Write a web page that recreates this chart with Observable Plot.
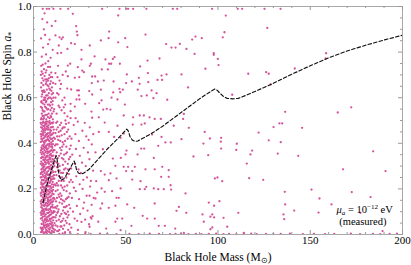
<!DOCTYPE html>
<html><head><meta charset="utf-8">
<script src="https://cdn.jsdelivr.net/npm/d3@7"></script>
<script src="https://cdn.jsdelivr.net/npm/@observablehq/plot@0.6"></script>
<style>
html,body{margin:0;padding:0;background:#fff}
svg{display:block}
#chart svg, #chart svg text, #chart svg tspan{font-family:"Liberation Serif","Times New Roman",serif !important}
</style>
</head><body><div id="chart"></div>
<script>
// ---- tick values ----
const xMajorTicks = [0, 50, 100, 150, 200];
const xMinorTicks = [10, 20, 30, 40, 60, 70, 80, 90, 110, 120, 130, 140, 160, 170, 180, 190];
const yMajorTicks = [0, 0.2, 0.4, 0.6, 0.8, 1.0];
const yMinorTicks = [0.05, 0.1, 0.15, 0.25, 0.3, 0.35, 0.45, 0.5, 0.55, 0.65, 0.7, 0.75, 0.85, 0.9, 0.95];

// ---- dashed bound curve ----
const curveMass = [5.2, 6.5, 8, 10, 11.5, 12.3, 12.8, 13.3, 14, 15, 16.5, 18.5, 20.5, 22, 22.6, 23.3, 24.3, 25.5, 27, 30, 35, 40, 45, 48, 50.5, 51.3, 52.3, 53.5, 55, 56.5, 60, 65, 70, 75, 80, 85, 90, 95, 98.3, 99.5, 101, 103, 105, 108, 111, 115, 120, 125, 130, 135, 140, 150, 160, 170, 180, 190, 200];
const curveSpin = [0.14, 0.19, 0.24, 0.29, 0.33, 0.345, 0.33, 0.29, 0.255, 0.238, 0.245, 0.27, 0.3, 0.322, 0.31, 0.285, 0.27, 0.266, 0.268, 0.285, 0.33, 0.375, 0.415, 0.44, 0.462, 0.455, 0.43, 0.415, 0.408, 0.41, 0.425, 0.448, 0.475, 0.505, 0.535, 0.565, 0.595, 0.622, 0.638, 0.633, 0.62, 0.605, 0.597, 0.595, 0.597, 0.61, 0.627, 0.645, 0.663, 0.683, 0.703, 0.74, 0.775, 0.805, 0.83, 0.853, 0.874];

// ---- black hole samples [mass, spin] ----
const clusterCore = [
[4.1,0.01],[4.8,0.03],[5.5,0.005],[6.2,0.04],[6.9,0.02],[7.7,0.045],[8.4,0.012],[9.1,0.03],[9.9,0.016],[10.7,0.04],[4.4,0.046],[5.2,0.024],[6.6,0.011],[7.3,0.034],[8.8,0.048],[9.6,0.006],[10.3,0.028],[11.1,0.01],[5.9,0.033],[8.1,0.026],
[4.0,0.07],[4.7,0.09],[5.4,0.055],[6.1,0.08],[6.8,0.064],[7.5,0.095],[8.2,0.06],[8.9,0.085],[9.7,0.07],[10.5,0.094],[4.4,0.1],[5.8,0.099],[7.1,0.075],[8.6,0.098],[10.1,0.052],[11.0,0.076],[5.1,0.078],[7.9,0.078],[9.3,0.058],[6.4,0.052],
[4.2,0.12],[4.9,0.143],[5.6,0.108],[6.3,0.13],[7.0,0.115],[7.7,0.147],[8.4,0.11],[9.2,0.137],[9.9,0.122],[10.7,0.146],[4.6,0.105],[5.3,0.128],[6.0,0.149],[6.7,0.138],[8.0,0.128],[8.8,0.149],[9.5,0.104],[10.3,0.13],[11.2,0.118],[7.4,0.125],
[4.1,0.17],[4.8,0.192],[5.5,0.158],[6.2,0.18],[6.9,0.167],[7.6,0.195],[8.3,0.162],[9.0,0.185],[9.8,0.172],[10.6,0.196],[4.5,0.152],[5.2,0.175],[5.9,0.198],[6.6,0.188],[7.3,0.176],[8.7,0.198],[9.4,0.153],[10.2,0.18],[11.0,0.16],[8.0,0.175],
[4.3,0.22],[5.0,0.24],[5.7,0.205],[6.4,0.23],[7.1,0.215],[7.8,0.245],[8.5,0.21],[9.3,0.235],[10.0,0.22],[10.8,0.246],[4.0,0.205],[4.6,0.238],[5.3,0.222],[6.1,0.248],[6.8,0.236],[7.5,0.228],[8.9,0.248],[9.6,0.204],[10.4,0.23],[8.2,0.232],
[4.1,0.27],[4.8,0.29],[5.5,0.255],[6.2,0.28],[6.9,0.265],[7.6,0.295],[8.3,0.26],[9.1,0.285],[9.8,0.27],[10.6,0.296],[4.5,0.252],[5.2,0.276],[5.9,0.298],[6.6,0.288],[7.3,0.274],[8.7,0.298],[9.4,0.253],[10.2,0.28],[11.1,0.26],[8.0,0.278],
[4.2,0.32],[4.9,0.34],[5.6,0.305],[6.3,0.33],[7.0,0.315],[7.7,0.345],[8.4,0.31],[9.2,0.335],[9.9,0.32],[10.7,0.346],[4.6,0.303],[5.3,0.327],[6.0,0.348],[6.7,0.338],[7.4,0.326],[8.8,0.349],[9.5,0.304],[10.3,0.33],[11.0,0.31],[8.1,0.328],
[4.1,0.37],[4.8,0.39],[5.5,0.355],[6.2,0.38],[6.9,0.365],[7.6,0.395],[8.3,0.36],[9.0,0.385],[9.8,0.37],[10.5,0.396],[4.5,0.352],[5.2,0.377],[5.9,0.398],[6.6,0.388],[7.3,0.374],[8.7,0.398],[9.4,0.353],[10.2,0.38],[8.0,0.378],
[4.3,0.42],[5.0,0.44],[5.7,0.405],[6.4,0.43],[7.1,0.415],[7.8,0.445],[8.5,0.41],[9.3,0.435],[10.0,0.42],[10.8,0.446],[4.0,0.406],[4.6,0.438],[5.3,0.422],[6.1,0.448],[6.8,0.436],[7.5,0.428],[9.0,0.448],[9.6,0.404],[8.2,0.432],
[4.1,0.47],[4.8,0.49],[5.5,0.455],[6.2,0.48],[6.9,0.465],[7.6,0.495],[8.3,0.46],[9.1,0.485],[9.9,0.47],[10.7,0.492],[4.5,0.452],[5.2,0.476],[6.6,0.488],[7.3,0.474],[8.7,0.497],[9.5,0.455],[5.9,0.462]
];
const clusterCoreFill = [
[4.3,0.025],[5.0,0.012],[5.7,0.038],[6.5,0.028],[7.2,0.006],[8.0,0.04],[8.7,0.022],[9.4,0.045],[10.1,0.035],[10.9,0.024],
[4.2,0.085],[4.9,0.062],[5.6,0.09],[6.3,0.068],[7.3,0.058],[8.0,0.094],[8.8,0.07],[9.5,0.088],[10.3,0.075],[10.9,0.098],
[4.1,0.135],[4.8,0.115],[5.5,0.14],[6.4,0.112],[7.1,0.138],[7.9,0.108],[8.6,0.132],[9.4,0.12],[10.1,0.141],[10.9,0.102],
[4.3,0.185],[5.0,0.163],[5.7,0.188],[6.4,0.158],[7.1,0.186],[7.9,0.152],[8.5,0.18],[9.3,0.168],[10.0,0.19],[10.9,0.177],
[4.2,0.228],[4.9,0.212],[5.6,0.238],[6.3,0.206],[7.0,0.243],[7.7,0.21],[8.6,0.226],[9.2,0.212],[10.1,0.242],[11.0,0.218],
[4.3,0.285],[5.0,0.262],[5.7,0.284],[6.4,0.258],[7.1,0.292],[7.8,0.264],[8.5,0.288],[9.3,0.268],[10.0,0.29],[10.8,0.274],
[4.1,0.335],[4.8,0.312],[5.5,0.338],[6.2,0.318],[7.2,0.34],[7.9,0.315],[8.6,0.338],[9.4,0.32],[10.1,0.344],[10.9,0.328],
[4.3,0.382],[5.0,0.362],[5.7,0.385],[6.4,0.36],[7.1,0.39],[7.8,0.364],[8.5,0.388],[9.2,0.368],[10.0,0.386],[10.8,0.37],
[4.2,0.43],[4.9,0.41],[5.5,0.435],[6.3,0.412],[7.0,0.44],[7.7,0.418],[8.7,0.442],[9.4,0.418],[10.2,0.44],[11.0,0.425],
[4.3,0.482],[5.0,0.462],[5.7,0.49],[6.4,0.458],[7.1,0.485],[7.9,0.468],[8.5,0.49],[9.3,0.47],[10.3,0.488],[11.0,0.46]
];
const clusterCoreFill2 = [
[3.9,0.03],[4.6,0.018],[5.3,0.045],[6.0,0.008],[6.8,0.042],[7.5,0.015],[8.3,0.038],[9.0,0.008],[9.8,0.044],[10.5,0.012],
[3.9,0.095],[4.6,0.072],[5.3,0.1],[6.0,0.062],[6.7,0.088],[7.4,0.066],[8.4,0.082],[9.1,0.066],[9.9,0.096],[10.7,0.062],
[3.9,0.145],[4.5,0.128],[5.2,0.11],[5.9,0.125],[6.8,0.108],[7.5,0.135],[8.2,0.142],[9.0,0.112],[9.7,0.145],[10.5,0.118],
[3.9,0.18],[4.6,0.196],[5.4,0.185],[6.0,0.168],[6.8,0.192],[7.5,0.16],[8.2,0.19],[8.9,0.165],[9.6,0.192],[10.4,0.158],
[3.9,0.25],[4.5,0.222],[5.2,0.208],[5.9,0.225],[6.6,0.212],[7.4,0.246],[8.1,0.214],[8.8,0.226],[9.5,0.242],[10.6,0.208],
[3.9,0.265],[4.7,0.275],[5.3,0.295],[6.0,0.27],[6.7,0.252],[7.5,0.262],[8.2,0.296],[8.9,0.26],[9.7,0.292],[10.4,0.255],
[3.9,0.31],[4.5,0.338],[5.2,0.31],[5.9,0.325],[6.6,0.308],[7.3,0.345],[8.2,0.318],[8.9,0.33],[9.7,0.345],[10.5,0.312],
[3.9,0.36],[4.6,0.375],[5.3,0.392],[6.0,0.37],[6.8,0.38],[7.5,0.356],[8.2,0.395],[8.9,0.365],[9.6,0.395],[10.4,0.362],
[3.9,0.44],[4.5,0.418],[5.2,0.445],[5.9,0.425],[6.6,0.408],[7.3,0.44],[8.0,0.415],[8.8,0.425],[9.8,0.438],[10.5,0.41],
[3.9,0.49],[4.6,0.468],[5.3,0.495],[6.0,0.472],[6.8,0.495],[7.5,0.46],[8.1,0.478],[8.9,0.46],[9.7,0.49],[10.5,0.472]
];
const clusterUpper = [
[4.3,0.51],[5.6,0.52],[6.9,0.505],[8.2,0.53],[9.6,0.515],[10.9,0.54],[4.9,0.545],[6.3,0.56],[7.5,0.548],[9.0,0.565],[10.3,0.57],[4.2,0.58],[5.5,0.59],[7.0,0.585],[8.4,0.6],[9.8,0.595],[4.7,0.615],[6.1,0.625],[7.6,0.61],[8.9,0.635],[10.6,0.62],[4.1,0.645],[5.3,0.655],[6.7,0.66],[8.1,0.65],[9.4,0.672],[4.8,0.685],[6.0,0.695],[7.3,0.68],[8.6,0.7],[10.1,0.69],[4.4,0.715],[5.7,0.725],[7.0,0.72],[9.0,0.735],[5.0,0.745],[6.5,0.75],[8.0,0.76],[4.6,0.63],[5.9,0.57],[7.8,0.57],[9.2,0.545],[10.0,0.645],[6.4,0.6],[7.9,0.675],
[4.5,0.53],[5.2,0.505],[6.0,0.54],[7.3,0.525],[8.7,0.51],[10.0,0.53],[4.0,0.56],[5.0,0.575],[6.7,0.58],[8.0,0.55],[9.5,0.58],[10.8,0.6],[4.4,0.605],[5.8,0.6],[7.2,0.635],[8.3,0.62],[9.9,0.615],[4.3,0.665],[5.6,0.632],[6.4,0.68],[7.6,0.655],[9.0,0.66],[5.0,0.705],[6.6,0.71],[7.9,0.735],[9.6,0.71],[4.2,0.74],
[4.1,0.505],[4.9,0.52],[5.7,0.51],[6.5,0.525],[7.8,0.515],[9.3,0.52],[10.5,0.505],[4.6,0.555],[5.4,0.54],[6.9,0.555],[8.5,0.57],[9.9,0.555],[11.2,0.55],[4.4,0.585],[6.2,0.59],[7.7,0.595],[9.1,0.6],[10.4,0.585],[5.1,0.625],[6.9,0.61],[8.6,0.64],[9.7,0.63],[4.0,0.7],[5.4,0.675],[7.0,0.67],[8.3,0.685],[9.3,0.69],[10.6,0.665],
[12.5,0.53],[13.6,0.565],[15.2,0.545],[16.8,0.6],[12.8,0.62],[14.9,0.66],[17.2,0.57],[13.3,0.74],[15.8,0.7],[18.3,0.64]
];
const clusterTop = [
[4.5,0.78],[6.8,0.79],[9.3,0.775],[5.2,0.82],[7.9,0.835],[10.4,0.81],[4.1,0.86],[6.3,0.875],[8.7,0.855],[5.6,0.9],[9.9,0.915],[4.8,0.945],[7.4,0.93],[6.0,0.97],[8.5,0.99],[5.0,0.99],[10.8,0.99],[7.2,0.99]
];
const midCluster = [
[11.6,0.02],[12.5,0.06],[13.4,0.015],[14.3,0.08],[15.2,0.035],[16.2,0.07],[17.1,0.01],[18.0,0.05],[19.0,0.085],[12.9,0.095],[15.8,0.005],[17.6,0.09],[14.8,0.055],[18.8,0.02],[11.9,0.075],
[11.8,0.12],[12.7,0.16],[13.6,0.11],[14.5,0.18],[15.5,0.135],[16.4,0.195],[17.3,0.12],[18.3,0.16],[19.3,0.13],[13.1,0.195],[16.0,0.105],[17.9,0.19],[14.9,0.155],[12.2,0.145],[19.7,0.18],
[11.5,0.22],[12.4,0.26],[13.3,0.215],[14.2,0.28],[15.1,0.235],[16.0,0.27],[16.9,0.21],[17.8,0.25],[18.7,0.285],[12.8,0.295],[15.7,0.205],[17.4,0.29],[14.6,0.25],[19.5,0.23],[11.9,0.275],
[11.7,0.32],[12.6,0.36],[13.5,0.31],[14.4,0.38],[15.4,0.335],[16.3,0.395],[17.2,0.32],[18.2,0.36],[19.2,0.33],[13.0,0.395],[15.9,0.305],[17.8,0.385],[14.8,0.355],[12.1,0.345],
[11.6,0.42],[12.5,0.46],[13.4,0.415],[14.3,0.48],[15.3,0.435],[16.2,0.47],[17.1,0.41],[18.1,0.45],[19.1,0.49],[12.9,0.495],[15.8,0.405],[17.6,0.485],[14.7,0.455],[19.6,0.43],
[12.0,0.04],[13.0,0.035],[14.0,0.02],[15.6,0.06],[16.7,0.04],[18.4,0.075],[19.5,0.045],[12.3,0.085],[13.8,0.065],[16.9,0.095],
[11.4,0.155],[12.9,0.125],[14.1,0.14],[15.2,0.17],[16.7,0.145],[18.0,0.125],[19.0,0.165],[13.6,0.175],[12.0,0.19],
[11.3,0.245],[12.6,0.225],[13.9,0.255],[15.0,0.27],[16.4,0.235],[18.3,0.215],[19.2,0.265],[13.4,0.28],
[11.4,0.37],[12.7,0.315],[13.9,0.345],[15.1,0.37],[16.6,0.35],[18.6,0.31],[19.6,0.375],[12.2,0.395],
[11.9,0.445],[13.2,0.47],[14.0,0.43],[15.6,0.465],[16.8,0.44],[18.5,0.42],[12.3,0.49],[17.3,0.5],
[11.4,0.05],[12.8,0.015],[14.6,0.035],[16.0,0.025],[17.4,0.06],[19.8,0.01],[13.3,0.1],[15.1,0.09],[18.6,0.1],
[11.5,0.1],[12.4,0.115],[14.0,0.165],[15.9,0.15],[17.6,0.155],[19.9,0.115],[16.5,0.12],
[12.1,0.215],[13.7,0.235],[15.5,0.25],[16.6,0.285],[18.1,0.27],[20.3,0.24],[14.9,0.215],
[11.3,0.3],[13.2,0.335],[14.2,0.3],[16.2,0.33],[17.6,0.355],[19.9,0.34],[15.6,0.385],
[11.6,0.39],[12.8,0.43],[14.5,0.41],[15.0,0.49],[16.9,0.47],[18.8,0.46],[20.2,0.39],[13.7,0.45]
];
const midSpread = [
[20.5,0.03],[22.3,0.07],[24.1,0.02],[26.0,0.055],[28.2,0.01],[30.1,0.045],[32.0,0.08],[21.4,0.1],[23.5,0.125],[25.3,0.09],[27.4,0.14],[29.3,0.105],[31.5,0.13],[20.8,0.16],[22.9,0.19],[24.7,0.155],[26.6,0.2],[28.8,0.17],[30.7,0.21],[32.6,0.16],[21.2,0.23],[23.2,0.255],[25.0,0.22],[27.0,0.24],[29.0,0.25],[31.1,0.235],[20.4,0.29],[22.5,0.31],[24.4,0.285],[26.3,0.315],[28.3,0.3],[30.3,0.33],[32.3,0.28],[21.0,0.35],[23.0,0.375],[25.1,0.345],[27.2,0.38],[29.5,0.36],[31.6,0.395],[20.6,0.42],[22.7,0.44],[24.6,0.41],[26.5,0.455],[28.6,0.43],[30.5,0.47],[32.4,0.44],[21.8,0.48],[24.0,0.495],[27.8,0.49],[29.9,0.415],[23.7,0.06],[26.9,0.115],[31.0,0.075],[21.9,0.205],[28.0,0.065],[25.7,0.27]
];
const sparseUpperLeft = [
[14.6,0.99],[18.8,0.99],[37.2,0.99],[46.6,0.99],[50.2,0.99],[51.3,0.99],[54,0.99],[61.2,0.99],[21.3,0.968],[45.9,0.961],[11.9,0.936],[23.1,0.914],[23.5,0.89],[23.8,0.874],[41,0.89],[11.9,0.873],[14.1,0.865],[15.9,0.865],[15.2,0.857],[60.7,0.877],[49.7,0.861],[40.7,0.861],[36.5,0.851],[45.9,0.843],[20.4,0.839],[22.4,0.835],[13.7,0.829],[30.5,0.829],[50.9,0.822],[71.9,0.835],[18.4,0.814],[26,0.81],[13,0.795],[15,0.797],[33.1,0.781],[26,0.768],[39,0.768],[41,0.749],[42.1,0.749],[43,0.77],[43.9,0.778],[46.8,0.749],[61.8,0.763],[68.3,0.772],[19.9,0.749],[18.6,0.741],[30.5,0.74],[31.1,0.749],[24,0.734],[17.5,0.715],[26.4,0.719],[27.3,0.712],[37,0.724],[40.3,0.724],[57.8,0.737],[50.6,0.702],[62,0.708],[69.4,0.697],[67.2,0.678],[69.7,0.678],[72.1,0.702],
[11.9,0.708],[13,0.69],[14.1,0.675],[11.9,0.661],[14.5,0.639],[18.6,0.694],[22.4,0.687],[24.8,0.69],[31.8,0.693],[33.4,0.693],[31.6,0.664],[34.9,0.671],[38.1,0.675],[43.4,0.671],[50.2,0.664],[53.3,0.671],[57.1,0.687],[57.5,0.661],[62.2,0.668],[20.4,0.636],[23.7,0.632],[24.6,0.632],[30.2,0.629],[36.5,0.635],[46.6,0.639],[48.4,0.635],[47,0.624],[43.2,0.623],[56.5,0.635],[58.5,0.607],[61.4,0.61],[64,0.632],[66.7,0.62],[65,0.598],[72.5,0.591],[31.8,0.614],[24.6,0.61],[23.3,0.592],[24.9,0.592],[13.6,0.614],[11.9,0.6],[15.6,0.588],[36.9,0.588],[42.3,0.6],[45.5,0.592],[35.6,0.576],[28,0.573],[20.1,0.573],[22.4,0.561],[49.5,0.57],[14.1,0.558],[16.4,0.558],[39.7,0.551],[37.8,0.548],[41.7,0.548],[20.1,0.541],[16.8,0.532],[31.4,0.539],[35.4,0.514],[31.8,0.512],[48.9,0.522],[54,0.514],[57.6,0.522],[59.8,0.522],[62.9,0.514],[65.7,0.507],[69,0.507],[18.4,0.518],[20.1,0.51],[22.8,0.51]
];
const sparseLowerLeft = [
[38.6,0.491],[35.4,0.45],[40.8,0.45],[45.5,0.477],[48.9,0.443],[43.7,0.428],[47.2,0.424],[53.8,0.482],[58.5,0.482],[60.3,0.487],[64.3,0.439],[69.4,0.428],[71.5,0.404],[74.4,0.404],[67.6,0.389],[58.4,0.377],[60,0.377],[50.4,0.368],[49.9,0.351],[56.4,0.351],[37.6,0.374],[33.6,0.36],[43,0.333],[47.3,0.336],[65.2,0.336],[44.4,0.301],[48.9,0.297],[51.3,0.297],[54.9,0.297],[50.2,0.278],[53.5,0.278],[60.7,0.286],[65.7,0.286],[69.8,0.297],[69.2,0.253],[73.3,0.253],[73.3,0.282],[36.5,0.278],[38.6,0.263],[41.7,0.268],[45,0.246],[34,0.234],[40.8,0.238],[53.5,0.241],[58,0.234],[61.1,0.209],[65.2,0.202],[57.6,0.199],[60.3,0.199],[67.6,0.199],[70.6,0.199],[74.3,0.216],[36.9,0.202],[34.5,0.184],[38.6,0.187],[42.6,0.19],[47.2,0.202],[46.2,0.161],[45,0.161],[33.6,0.158],[30.4,0.17],[37.2,0.136],[40.8,0.117],[36.3,0.114],[44.4,0.126],[50.8,0.132],[54.6,0.117],[65.7,0.136],[59.2,0.082],[61.6,0.07],[65.7,0.07],[71.2,0.038],[67.9,0.038],[45.4,0.07],[48.1,0.07],[44.4,0.056],[35.1,0.056],[31.4,0.07],[30.4,0.034],[39.4,0.026],[53.1,0.038],[47.2,0.019]
];
const sparseUpperMid = [
[75.5,0.99],[77.9,0.99],[96.8,0.99],[110.7,0.99],[113.1,0.99],[125.2,0.99],[133.9,0.99],[104.2,0.96],[126.7,0.906],[103.5,0.887],[87.8,0.868],[86,0.855],[91.2,0.861],[102.6,0.865],[79.3,0.836],[74.8,0.82],[77,0.82],[82.9,0.814],[87.3,0.792],[97.7,0.795],[97.7,0.788],[99.9,0.77],[100.3,0.743],[93.2,0.727],[80.2,0.702],[116.4,0.705],[126.1,0.712],[127.5,0.705],[83.8,0.645],[107.7,0.613],[128.5,0.658],[136.4,0.538],[81.5,0.529],[81.1,0.507]
];
const sparseLowerMid = [
[76,0.477],[84.2,0.468],[92.8,0.45],[80.2,0.418],[95.6,0.421],[101.7,0.424],[101.5,0.407],[92.1,0.399],[101.7,0.377],[110.2,0.398],[109.9,0.371],[118.5,0.368],[117.6,0.351],[115.6,0.311],[86.7,0.342],[94.7,0.348],[122,0.447],[127.5,0.413],[130.1,0.471],[133.3,0.487],[134.8,0.487],[134,0.405],[132.4,0.355],[98.3,0.246],[99.7,0.25],[102.3,0.234],[116.9,0.247],[124.5,0.24],[74.6,0.197],[82.4,0.18],[136.2,0.187],[136.4,0.132],[95,0.14],[100.8,0.146],[97.9,0.126],[78.8,0.121],[77.5,0.104],[82.8,0.095],[91.6,0.088],[96.9,0.088],[95.9,0.078],[97.9,0.075],[103,0.073],[111,0.095],[135.5,0.088],[135.9,0.067],[92.3,0.056],[105,0.034],[96.9,0.031],[95.9,0.023],[76.8,0.026],[81.5,0.007],[114,0.007]
];
const sparseRight = [
[141.6,0.728],[158.6,0.795],[158.3,0.772],[164.9,0.535],[172.2,0.558],[145.6,0.468],[143.5,0.345],[184.1,0.365],[167.8,0.286],[190.8,0.278],[150.7,0.197],[155,0.158],[172.5,0.186],[182.7,0.164],[141.3,0.105],[154.5,0.096],[161.5,0.132],[177.2,0.095],[189.2,0.015]
];
const bottomRowMass = [14, 17, 20, 24, 28, 31, 36, 40, 45, 52, 57, 63, 68, 74, 77, 80, 84, 88, 91, 95, 99, 103, 106, 110, 114, 118, 121, 126, 130, 134, 139, 146, 152, 158, 163, 172, 177, 184, 188, 193, 197];
const bottomRowSpin = [0.003, 0.002, 0.004, 0.002, 0.003, 0.002, 0.004, 0.003, 0.002, 0.003, 0.002, 0.004, 0.003, 0.002, 0.003, 0.004, 0.002, 0.003, 0.002, 0.003, 0.004, 0.002, 0.003, 0.002, 0.003, 0.004, 0.002, 0.003, 0.002, 0.003, 0.004, 0.002, 0.003, 0.002, 0.003, 0.004, 0.002, 0.003, 0.002, 0.003, 0.004];

const samples = [...clusterCore, ...clusterCoreFill, ...clusterCoreFill2, ...clusterUpper, ...clusterTop, ...midCluster, ...midSpread,
  ...sparseUpperLeft, ...sparseLowerLeft, ...sparseUpperMid, ...sparseLowerMid, ...sparseRight,
  ...bottomRowMass.map((m, i) => [m, bottomRowSpin[i]])].map(([mass, spin]) => ({mass, spin}));
const curve = curveMass.map((mass, i) => ({mass, spin: curveSpin[i]}));

const FONT = "Liberation Serif";
const W = 411, H = 265, ML = 33, MR = 9, MT = 6, MB = 31;
const FW = W - ML - MR, FH = H - MT - MB;
const tickColor = "#9a9a9a";

const chart = Plot.plot({
  width: W, height: H,
  marginLeft: ML, marginRight: MR, marginTop: MT, marginBottom: MB,
  style: {fontFamily: FONT, fontSize: "11px", background: "#fff", color: "#000", overflow: "visible"},
  x: {domain: [0, 200]},
  y: {domain: [0, 1]},
  marks: [
    Plot.dot(samples, {x: "mass", y: "spin", r: 1.15, fill: "#d4549a", stroke: null}),
    Plot.line(curve, {x: "mass", y: "spin", stroke: "#111", strokeWidth: 1.15, strokeDasharray: "3.5,2.2"}),
    Plot.frame({stroke: "#a8a8a8", strokeWidth: 1}),
    // inward ticks, all four sides
    Plot.tickX(xMajorTicks, {x: d => d, stroke: tickColor, insetTop: FH - 4}),
    Plot.tickX(xMajorTicks, {x: d => d, stroke: tickColor, insetBottom: FH - 4}),
    Plot.tickX(xMinorTicks, {x: d => d, stroke: tickColor, insetTop: FH - 2}),
    Plot.tickX(xMinorTicks, {x: d => d, stroke: tickColor, insetBottom: FH - 2}),
    Plot.tickY(yMajorTicks, {y: d => d, stroke: tickColor, insetRight: FW - 4}),
    Plot.tickY(yMajorTicks, {y: d => d, stroke: tickColor, insetLeft: FW - 4}),
    Plot.tickY(yMinorTicks, {y: d => d, stroke: tickColor, insetRight: FW - 2}),
    Plot.tickY(yMinorTicks, {y: d => d, stroke: tickColor, insetLeft: FW - 2}),
    // tick labels
    Plot.axisX({ticks: xMajorTicks, tickSize: 0, tickPadding: 2, label: null, fontSize: 11, fontFamily: FONT}),
    Plot.axisY({ticks: yMajorTicks, tickSize: 0, tickPadding: 2, label: null, tickFormat: d3.format(".1f"), fontSize: 11, fontFamily: FONT}),
    // titles
    Plot.text(["Black Hole Mass (M⊙)"], {frameAnchor: "bottom", dy: 23, fontSize: 11.5, fontFamily: FONT, lineAnchor: "middle"}),
    Plot.text(["Black Hole Spin a*"], {frameAnchor: "left", dx: -26, rotate: -90, fontSize: 11.5, fontFamily: FONT, lineAnchor: "middle"}),
    // annotation
    Plot.text(["μa = 10−12 eV"], {x: () => 179.5, y: () => 0.108, fontSize: 10.5, fontFamily: FONT, lineAnchor: "middle"}),
    Plot.text(["(measured)"], {x: () => 178.5, y: () => 0.056, fontSize: 10.5, fontFamily: FONT, lineAnchor: "middle"})
  ]
});

// rich text for titles
d3.select(chart).selectAll("text").each(function () {
  const t = this.textContent;
  if (t === "Black Hole Mass (M⊙)") {
    this.innerHTML = 'Black Hole Mass (M<tspan font-size="7.5" dy="2">⊙</tspan><tspan dy="-2">)</tspan>';
  } else if (t === "Black Hole Spin a*") {
    this.innerHTML = 'Black Hole Spin <tspan font-style="italic">a</tspan><tspan font-size="7.5" dy="2.5">*</tspan>';
  } else if (t === "μa = 10−12 eV") {
    this.innerHTML = '<tspan font-style="italic">μ</tspan><tspan font-style="italic" font-size="7" dy="2">a</tspan><tspan dy="-2"> = 10</tspan><tspan font-size="7" dy="-4">−12</tspan><tspan dy="4"> eV</tspan>';
  }
});

document.getElementById("chart").appendChild(chart);
</script>
</body></html>
